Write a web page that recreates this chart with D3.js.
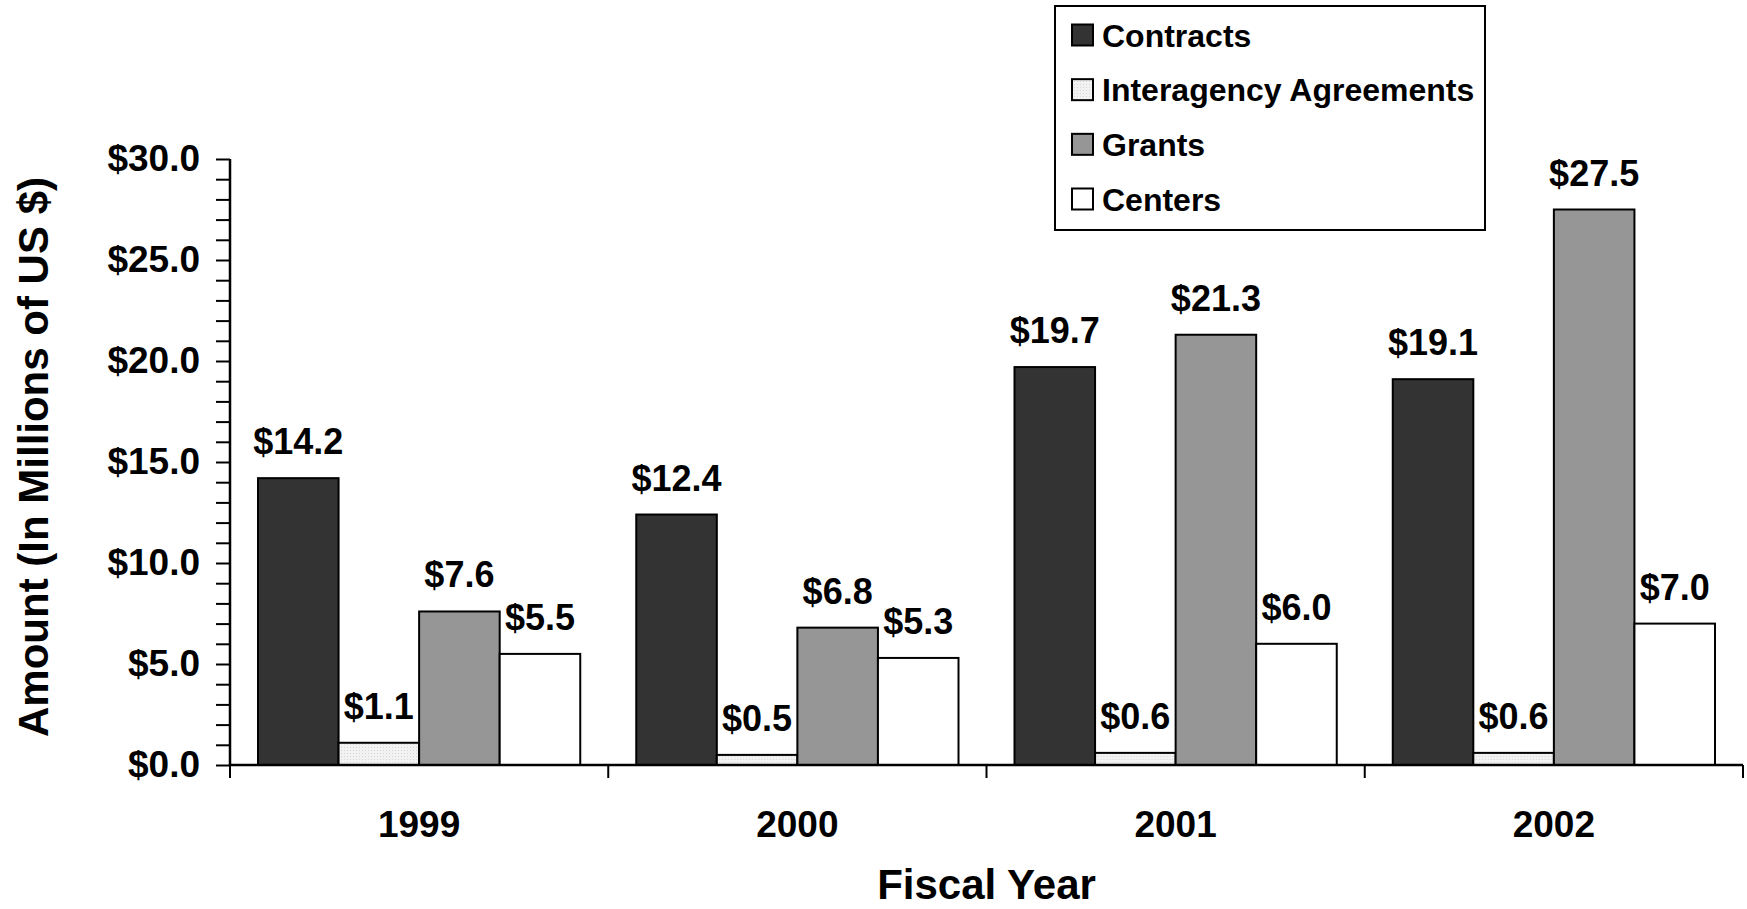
<!DOCTYPE html>
<html>
<head>
<meta charset="utf-8">
<script src="https://cdn.jsdelivr.net/npm/d3@7"></script>
<style>
  html, body { margin: 0; padding: 0; background: #fff; }
  svg { display: block; }
  text { font-family: "Liberation Sans", Arial, sans-serif; font-weight: bold; fill: #000; }
</style>
</head>
<body>
<svg id="chart" width="1747" height="909"></svg>
<script>
// ---- data ----
const years = ["1999", "2000", "2001", "2002"];
const seriesNames = ["Contracts", "Interagency Agreements", "Grants", "Centers"];
const contracts = [14.2, 12.4, 19.7, 19.1];
const interagency = [1.1, 0.5, 0.6, 0.6];
const grants = [7.6, 6.8, 21.3, 27.5];
const centers = [5.5, 5.3, 6.0, 7.0];
const yTickValues = [0, 5, 10, 15, 20, 25, 30];
const xTitle = "Fiscal Year";
const yTitle = "Amount (In Millions of US $)";

const seriesValues = [contracts, interagency, grants, centers];
const fills = ["#333333", "url(#dots)", "#969696", "#ffffff"];

const svg = d3.select("#chart");
svg.append("rect").attr("width", 1747).attr("height", 909).attr("fill", "#fff");

// dotted light pattern for interagency agreements
const defs = svg.append("defs");
const pat = defs.append("pattern").attr("id", "dots").attr("patternUnits", "userSpaceOnUse")
  .attr("width", 3).attr("height", 3);
pat.append("rect").attr("width", 3).attr("height", 3).attr("fill", "#f2f2f2");
pat.append("rect").attr("x", 0).attr("y", 0).attr("width", 1).attr("height", 1).attr("fill", "#d6d6d6");

// ---- scales ----
const plotLeft = 230, plotRight = 1743, plotTop = 159, plotBottom = 765;
const y = d3.scaleLinear().domain([0, 30]).range([plotBottom, plotTop]);
const x0 = d3.scaleBand().domain(years).range([plotLeft, plotRight]).padding(0);
const gap = 28;
const x1 = d3.scaleBand().domain(seriesNames).range([gap, x0.bandwidth() - gap]).padding(0);

// ---- bars ----
const groups = svg.append("g").selectAll("g").data(years).join("g")
  .attr("transform", d => `translate(${x0(d)},0)`);

groups.each(function(year, yi) {
  const g = d3.select(this);
  seriesNames.forEach((s, si) => {
    const v = seriesValues[si][yi];
    g.append("rect")
      .attr("x", x1(s))
      .attr("y", y(v))
      .attr("width", x1.bandwidth())
      .attr("height", y(0) - y(v))
      .attr("fill", fills[si])
      .attr("stroke", "#000")
      .attr("stroke-width", 2);
    g.append("text")
      .attr("x", x1(s) + x1.bandwidth() / 2)
      .attr("y", y(v) - 24)
      .attr("text-anchor", "middle")
      .attr("font-size", 36)
      .text("$" + v.toFixed(1));
  });
});

// ---- y axis ----
const yAxis = d3.axisLeft(y)
  .tickValues(d3.range(0, 31, 1))
  .tickSize(14)
  .tickPadding(16)
  .tickFormat(d => yTickValues.includes(d) ? "$" + d.toFixed(1) : "");
const yg = svg.append("g").attr("transform", `translate(${plotLeft},0)`).call(yAxis);
yg.select(".domain").attr("d", `M0,${plotTop}V${plotBottom}`).attr("stroke", "#000").attr("stroke-width", 2.5);
yg.selectAll(".tick line").attr("stroke", "#000").attr("stroke-width", 2);
yg.selectAll(".tick text").attr("font-size", 37).attr("font-family", "Liberation Sans, Arial, sans-serif")
  .attr("font-weight", "bold").attr("fill", "#000");

// ---- x axis ----
const xg = svg.append("g").attr("transform", `translate(0,${plotBottom})`);
xg.append("line").attr("x1", plotLeft).attr("x2", plotRight).attr("y1", 0).attr("y2", 0)
  .attr("stroke", "#000").attr("stroke-width", 2.5);
const boundaries = years.map(d => x0(d)).concat([x0(years[years.length - 1]) + x0.bandwidth()]);
xg.selectAll("line.sep").data(boundaries).join("line").attr("class", "sep")
  .attr("x1", d => d).attr("x2", d => d).attr("y1", 0).attr("y2", 13)
  .attr("stroke", "#000").attr("stroke-width", 2);
xg.selectAll("text.cat").data(years).join("text").attr("class", "cat")
  .attr("x", d => x0(d) + x0.bandwidth() / 2)
  .attr("y", 72)
  .attr("text-anchor", "middle")
  .attr("font-size", 37)
  .text(d => d);

// ---- titles ----
svg.append("text").attr("x", (plotLeft + plotRight) / 2).attr("y", 899)
  .attr("text-anchor", "middle").attr("font-size", 42).text(xTitle);
svg.append("text").attr("transform", `translate(48,${(plotTop + plotBottom) / 2 - 5}) rotate(-90)`)
  .attr("text-anchor", "middle").attr("font-size", 42).text(yTitle);

// ---- legend ----
const legend = svg.append("g");
legend.append("rect").attr("x", 1055).attr("y", 6).attr("width", 430).attr("height", 224)
  .attr("fill", "#fff").attr("stroke", "#000").attr("stroke-width", 2);
const rowY = d3.scalePoint().domain(seriesNames).range([35, 199]);
seriesNames.forEach((s, i) => {
  legend.append("rect").attr("x", 1072).attr("y", rowY(s) - 10.5).attr("width", 21).attr("height", 21)
    .attr("fill", fills[i]).attr("stroke", "#000").attr("stroke-width", 2);
  legend.append("text").attr("x", 1102).attr("y", rowY(s) + 11.5).attr("font-size", 32).text(s);
});
</script>
</body>
</html>
